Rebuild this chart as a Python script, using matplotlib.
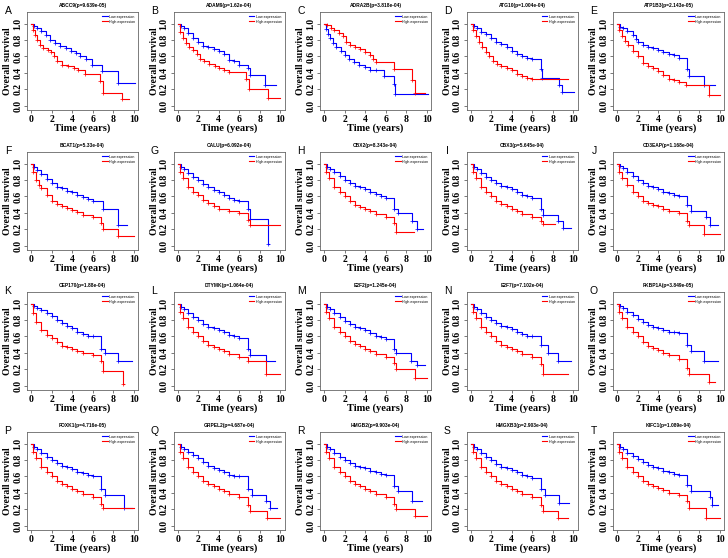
"""Kaplan-Meier survival panels for 20 genes (low vs high expression)."""

import matplotlib
matplotlib.use('Agg')
import matplotlib.pyplot as plt

letters = list('ABCDEFGHIJKLMNOPQRST')
genes = ['ABCC9', 'ADAM9', 'ADRA2B', 'ATG10', 'ATP1B3',
         'BCAT1', 'CALU', 'CBX2', 'CBX3', 'CD3EAP',
         'CEP170', 'DTYMK', 'E2F2', 'E2F7', 'FKBP1A',
         'FOXK1', 'GRPEL2', 'HMGB2', 'HMGXB3', 'KIFC1']
pvalues = ['9.639e-05', '1.62e-04', '3.818e-04', '1.004e-04', '2.143e-05',
           '5.33e-04', '6.092e-04', '8.343e-04', '5.645e-04', '1.168e-04',
           '1.88e-04', '1.064e-04', '1.245e-04', '7.102e-04', '3.849e-05',
           '4.716e-05', '4.687e-04', '9.903e-04', '2.903e-04', '1.089e-04']

# (time in years, survival) step points
low_curves = [
    [(0, 1), (0.3, .97), (0.6, .95), (1, .91), (1.4, .86), (1.8, .8), (2.3, .76), (2.8, .73), (3.4, .7), (3.9, .67), (4.4, .64), (4.8, .6), (5.3, .57), (5.9, .5), (6.9, .42), (8.5, .28), (10.1, .28)],
    [(0, 1), (0.3, .97), (0.6, .94), (1, .89), (1.5, .83), (2, .77), (2.5, .73), (3, .72), (3.5, .69), (4, .67), (4.5, .63), (5, .56), (5.5, .54), (6, .5), (6.8, .46), (7, .37), (8.5, .25), (9.6, .25)],
    [(0, 1), (0.15, .93), (0.35, .87), (0.6, .82), (0.9, .76), (1.2, .71), (1.6, .67), (2, .62), (2.4, .57), (2.9, .53), (3.4, .5), (4, .47), (4.5, .44), (5, .43), (5.8, .36), (6.8, .27), (6.9, .15), (10.1, .15)],
    [(0, 1), (0.3, .97), (0.6, .95), (1, .9), (1.5, .87), (2, .83), (2.5, .78), (3, .75), (3.5, .72), (4, .67), (4.5, .63), (5, .6), (5.5, .58), (6, .57), (6.8, .45), (6.9, .34), (8.6, .25), (8.9, .17), (10.1, .17)],
    [(0, 1), (0.3, .96), (0.6, .94), (1, .91), (1.5, .86), (1.8, .81), (2, .77), (2.5, .74), (3, .72), (3.5, .7), (4, .68), (4.5, .66), (5, .63), (5.5, .62), (6, .58), (6.8, .45), (6.95, .36), (8.5, .25), (9.5, .25)],
    [(0, 1), (0.3, .96), (0.6, .92), (1, .87), (1.5, .81), (2, .76), (2.5, .72), (3, .7), (3.5, .67), (4, .65), (4.5, .62), (5, .59), (5.5, .57), (6, .55), (7, .45), (8.5, .25), (9.3, .25)],
    [(0, 1), (0.3, .96), (0.6, .93), (1, .89), (1.5, .84), (2, .8), (2.5, .75), (3, .72), (3.5, .68), (4, .65), (4.5, .62), (5, .58), (5.5, .56), (6, .55), (6.8, .45), (7, .33), (8.8, .02), (8.85, .02)],
    [(0, 1), (0.3, .96), (0.6, .93), (1, .9), (1.5, .85), (2, .8), (2.5, .76), (3, .73), (3.5, .71), (4, .69), (4.5, .66), (5, .63), (5.5, .61), (6, .58), (6.8, .45), (7.2, .4), (8.6, .3), (9, .2), (9.6, .2)],
    [(0, 1), (0.3, .96), (0.6, .93), (1, .89), (1.5, .84), (2, .8), (2.5, .76), (3, .73), (3.5, .71), (4, .69), (4.5, .66), (5, .62), (5.5, .6), (6, .58), (6.8, .45), (7, .38), (8.5, .3), (9, .22), (9.8, .22)],
    [(0, 1), (0.3, .97), (0.6, .94), (1, .9), (1.5, .85), (2, .8), (2.5, .76), (3, .73), (3.5, .71), (4, .69), (4.5, .66), (5, .64), (5.5, .62), (6, .6), (6.8, .5), (7.2, .42), (8.6, .35), (9, .25), (9.8, .25)],
    [(0, 1), (0.3, .97), (0.6, .95), (1, .92), (1.5, .88), (2, .85), (2.5, .8), (3, .76), (3.5, .73), (4, .7), (4.5, .66), (5, .63), (5.5, .61), (6, .6), (6.8, .45), (7.2, .4), (8.5, .3), (9.8, .3)],
    [(0, 1), (0.3, .96), (0.6, .93), (1, .89), (1.5, .84), (2, .8), (2.5, .75), (3, .72), (3.5, .7), (4, .68), (4.5, .65), (5, .62), (5.5, .6), (6, .58), (6.8, .45), (7, .38), (8.6, .3), (9.5, .3)],
    [(0, 1), (0.3, .96), (0.6, .93), (1, .89), (1.5, .84), (2, .79), (2.5, .75), (3, .72), (3.5, .7), (4, .68), (4.5, .64), (5, .61), (5.5, .59), (6, .57), (6.8, .45), (7, .4), (8.5, .3), (9, .25), (9.8, .25)],
    [(0, 1), (0.3, .96), (0.6, .93), (1, .89), (1.5, .84), (2, .8), (2.5, .76), (3, .73), (3.5, .71), (4, .69), (4.5, .66), (5, .63), (5.5, .61), (6, .6), (6.8, .5), (7.5, .4), (8.5, .3), (9.8, .3)],
    [(0, 1), (0.3, .97), (0.6, .94), (1, .9), (1.5, .86), (2, .81), (2.5, .77), (3, .74), (3.5, .72), (4, .7), (4.5, .68), (5, .66), (5.5, .65), (6, .64), (6.8, .5), (7.2, .42), (8.5, .3), (9.8, .3)],
    [(0, 1), (0.3, .96), (0.6, .93), (1, .89), (1.5, .84), (2, .8), (2.5, .76), (3, .73), (3.5, .71), (4, .69), (4.5, .66), (5, .64), (5.5, .62), (6, .6), (6.8, .45), (7.2, .38), (9, .22), (9.8, .22)],
    [(0, 1), (0.3, .96), (0.6, .93), (1, .9), (1.5, .86), (2, .82), (2.5, .77), (3, .73), (3.5, .7), (4, .68), (4.5, .65), (5, .62), (5.5, .61), (6, .6), (6.8, .45), (7.2, .38), (8.6, .3), (9, .22), (9.7, .22)],
    [(0, 1), (0.3, .96), (0.6, .93), (1, .89), (1.5, .84), (2, .8), (2.5, .76), (3, .73), (3.5, .71), (4, .7), (4.5, .67), (5, .65), (5.5, .63), (6, .62), (6.8, .48), (7.2, .42), (8.6, .3), (9.5, .3)],
    [(0, 1), (0.3, .96), (0.6, .93), (1, .89), (1.5, .84), (2, .8), (2.5, .75), (3, .72), (3.5, .7), (4, .68), (4.5, .65), (5, .62), (5.5, .6), (6, .58), (6.8, .45), (7.2, .38), (8.6, .28), (9.6, .28)],
    [(0, 1), (0.3, .96), (0.6, .93), (1, .89), (1.5, .85), (2, .81), (2.5, .77), (3, .74), (3.5, .72), (4, .7), (4.5, .67), (5, .65), (5.5, .63), (6, .62), (6.8, .5), (7.2, .42), (9, .35), (9.2, .25), (9.8, .25)],
]

high_curves = [
    [(0, 1), (0.2, .92), (0.4, .86), (0.6, .8), (0.9, .74), (1.2, .7), (1.6, .68), (1.9, .65), (2.2, .6), (2.5, .55), (3, .5), (3.6, .48), (4.2, .46), (4.6, .43), (5.2, .39), (6.7, .3), (6.95, .16), (8.8, .08), (9.5, .08)],
    [(0, 1), (0.2, .9), (0.5, .82), (0.8, .76), (1.1, .71), (1.5, .68), (1.9, .63), (2.2, .57), (2.6, .54), (3.1, .51), (3.6, .49), (4, .46), (4.5, .43), (5, .41), (6.7, .33), (6.9, .2), (8.8, .1), (10, .1)],
    [(0, 1), (0.3, .98), (0.7, .95), (1, .92), (1.4, .89), (1.8, .85), (2.1, .78), (2.5, .74), (3, .71), (3.5, .69), (4, .66), (4.5, .62), (4.8, .57), (5, .53), (6.8, .45), (8.6, .32), (8.8, .16), (9.8, .16)],
    [(0, 1), (0.2, .92), (0.5, .85), (0.8, .78), (1.1, .72), (1.5, .66), (1.8, .6), (2.2, .55), (2.6, .51), (3, .49), (3.5, .46), (4, .43), (4.5, .39), (5, .36), (5.5, .34), (6, .33), (9.5, .33)],
    [(0, 1), (0.2, .92), (0.5, .85), (0.8, .79), (1.1, .74), (1.5, .67), (2, .6), (2.5, .52), (3, .49), (3.5, .46), (4, .42), (4.5, .38), (5, .33), (5.5, .31), (6, .29), (6.7, .25), (8.9, .13), (10, .13)],
    [(0, 1), (0.2, .9), (0.5, .8), (0.8, .74), (1, .7), (1.5, .62), (2, .55), (2.5, .51), (3, .48), (3.5, .46), (4, .44), (4.5, .41), (5, .38), (6, .35), (6.8, .28), (7, .2), (8.5, .12), (10, .12)],
    [(0, 1), (0.2, .9), (0.5, .82), (1, .72), (1.5, .66), (2, .62), (2.5, .56), (3, .52), (3.5, .49), (4, .45), (5, .42), (6, .4), (6.8, .32), (7, .25), (10, .25)],
    [(0, 1), (0.2, .9), (0.5, .82), (1, .72), (1.5, .65), (2, .6), (2.5, .54), (3, .5), (3.5, .47), (4, .45), (4.5, .42), (5, .39), (6, .35), (6.8, .28), (7, .17), (8.7, .17)],
    [(0, 1), (0.2, .9), (0.5, .82), (1, .72), (1.5, .65), (2, .6), (2.5, .55), (3, .51), (3.5, .48), (4, .45), (4.5, .42), (5, .39), (6, .35), (6.8, .3), (7, .27), (8.2, .27)],
    [(0, 1), (0.2, .9), (0.5, .82), (1, .74), (1.5, .66), (2, .6), (2.5, .55), (3, .52), (3.5, .5), (4, .48), (4.5, .45), (5, .42), (6, .4), (6.8, .3), (7, .25), (8.5, .15), (10, .15)],
    [(0, 1), (0.2, .88), (0.5, .78), (1, .68), (1.5, .62), (2, .58), (2.5, .53), (3, .49), (3.5, .47), (4, .45), (4.5, .42), (5, .4), (6, .38), (6.8, .3), (7, .18), (8.9, .02), (9, .02)],
    [(0, 1), (0.2, .9), (0.5, .82), (1, .72), (1.5, .65), (2, .6), (2.5, .54), (3, .5), (3.5, .47), (4, .45), (4.5, .42), (5, .39), (6, .35), (6.8, .3), (8.6, .15), (10, .15)],
    [(0, 1), (0.2, .9), (0.5, .82), (1, .72), (1.5, .66), (2, .6), (2.5, .55), (3, .51), (3.5, .48), (4, .45), (4.5, .42), (5, .39), (6, .35), (6.8, .28), (7, .2), (8.8, .1), (10, .1)],
    [(0, 1), (0.2, .9), (0.5, .82), (1, .72), (1.5, .66), (2, .6), (2.5, .55), (3, .5), (3.5, .47), (4, .45), (4.5, .42), (5, .39), (6, .35), (6.8, .27), (7, .15), (9.5, .15)],
    [(0, 1), (0.2, .9), (0.5, .82), (1, .72), (1.5, .65), (2, .6), (2.5, .53), (3, .49), (3.5, .46), (4, .44), (4.5, .4), (5, .37), (6, .33), (6.8, .22), (7, .15), (8.9, .05), (9.5, .05)],
    [(0, 1), (0.2, .9), (0.5, .82), (1, .72), (1.5, .66), (2, .6), (2.5, .55), (3, .51), (3.5, .48), (4, .45), (4.5, .42), (5, .39), (6, .35), (6.8, .27), (7, .22), (10, .22)],
    [(0, 1), (0.2, .9), (0.5, .82), (1, .72), (1.5, .66), (2, .6), (2.5, .55), (3, .51), (3.5, .48), (4, .45), (4.5, .42), (5, .39), (6, .35), (6.8, .25), (7, .18), (8.7, .1), (10, .1)],
    [(0, 1), (0.2, .9), (0.5, .82), (1, .72), (1.5, .66), (2, .6), (2.5, .55), (3, .51), (3.5, .48), (4, .45), (4.5, .42), (5, .39), (6, .35), (6.8, .27), (7, .2), (8.8, .12), (10, .12)],
    [(0, 1), (0.2, .9), (0.5, .82), (1, .72), (1.5, .66), (2, .6), (2.5, .55), (3, .51), (3.5, .48), (4, .45), (4.5, .42), (5, .39), (6, .35), (6.8, .25), (7, .18), (8.5, .1), (9.5, .1)],
    [(0, 1), (0.2, .9), (0.5, .82), (1, .72), (1.5, .66), (2, .6), (2.5, .55), (3, .51), (3.5, .48), (4, .46), (4.5, .43), (5, .4), (6, .38), (6.8, .3), (7, .22), (8.6, .1), (10, .1)],
]

SERIF = 'Liberation Serif'
SANS = 'Liberation Sans'
W, H = 728, 558


def draw_curve(ax, pts, color, label):
    t = [p[0] for p in pts]
    s = [p[1] for p in pts]
    ax.step(t, s, where='post', color=color, lw=0.8, label=label)
    # censor ticks
    ax.plot(t[1:-1], s[1:-1], ls='none', marker='+', ms=2.5, mew=0.5, color=color)


def main():
    fig = plt.figure(figsize=(W / 100, H / 100), dpi=100)

    for i, gene in enumerate(genes):
        r, c = divmod(i, 5)
        left = 27 + 146.5 * c
        top = 12 + 140 * r
        ax = fig.add_axes([left / W, 1 - (top + 98) / H, 111 / W, 98 / H])

        draw_curve(ax, low_curves[i], 'blue', 'Low expression')
        draw_curve(ax, high_curves[i], 'red', 'High expression')

        ax.set_xlim(-0.4, 10.4)
        ax.set_ylim(-0.05, 1.14)
        ax.set_xticks(range(0, 11, 2))
        ax.set_xticklabels([str(v) for v in range(0, 11, 2)],
                           family=SERIF, weight='bold', fontsize=7)
        yt = [0, 0.2, 0.4, 0.6, 0.8, 1.0]
        ax.set_yticks(yt)
        ax.set_yticklabels([f'{v:.1f}' for v in yt], rotation=90, va='center',
                           family=SERIF, weight='bold', fontsize=7)
        ax.tick_params(length=2.5, width=0.5, pad=1, color='#444444')
        for sp in ax.spines.values():
            sp.set_color('#666666')
            sp.set_linewidth(0.6)

        ax.set_xlabel('Time (years)', family=SERIF, weight='bold',
                      fontsize=7.5, labelpad=0)
        ax.set_ylabel('Overall survival', family=SERIF, weight='bold',
                      fontsize=7, labelpad=0.5)
        ax.set_title(f'{gene}(p={pvalues[i]})', family=SANS, weight='bold',
                     fontsize=3.5, pad=3.5)
        ax.text(-19 / 111, 1.015, letters[i], transform=ax.transAxes,
                family=SANS, fontsize=7.5, ha='center', va='center')

        ax.legend(loc='upper right', frameon=False, prop={'family': SANS, 'size': 2.6},
                  handlelength=1.4, handletextpad=0.5, labelspacing=0.3,
                  borderaxespad=0.3)

    fig.savefig('out.png', dpi=100)
    plt.close(fig)


if __name__ == '__main__':
    main()
